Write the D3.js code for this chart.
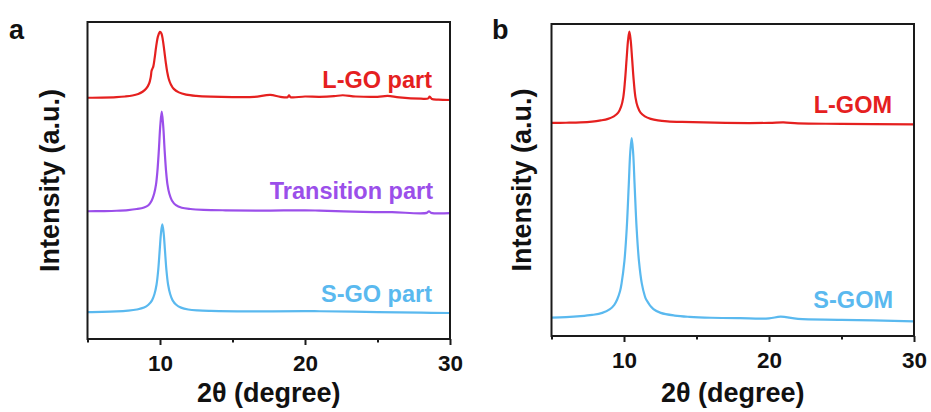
<!DOCTYPE html>
<html lang="en">
<head>
    <meta charset="UTF-8">
    <title>XRD patterns</title>
    <script src="https://d3js.org/d3.v7.min.js"></script>
    <style>
        body, html { margin: 0; padding: 0; overflow: hidden; background: #fff; }
        text { font-family: "Liberation Sans", Arial, sans-serif; font-weight: bold; }
    </style>
</head>
<body>
    <svg width="931" height="412" id="chart"></svg>
    <script>
        // 2θ axis
        const xDomain = [5, 30];
        const xMajor = [10, 20, 30];
        const xMinor = [5, 15, 25];

        // panel a: intensity above each baseline [2θ, a.u.]
        const lgoPart = [[5, 0.1], [6, 0.15], [7, 0.3], [7.6, 0.5], [8.1, 0.8], [8.5, 1.3], [8.8, 2.0], [9.05, 3.0],
            [9.25, 4.6], [9.36, 6.6], [9.42, 8.6], [9.47, 9.2], [9.54, 10.0], [9.63, 12.6], [9.74, 16.4], [9.87, 19.6],
            [10, 20.9], [10.1, 20.4], [10.2, 18.2], [10.3, 14.8], [10.4, 11.2], [10.5, 8.2], [10.6, 6.1], [10.75, 4.3],
            [10.95, 2.9], [11.3, 1.8], [11.8, 1.1], [12.5, 0.7], [13.5, 0.45], [15, 0.3], [16.5, 0.35], [17.6, 1.0],
            [18.3, 0.4], [18.8, 0.3], [18.9, 0.9], [19, 0.3], [20, 0.5], [21, 0.4], [22, 0.6], [22.6, 0.9], [23.5, 0.5],
            [25, 0.4], [25.7, 0.7], [26.5, 0.2], [28, -0.2], [28.5, -0.1], [28.6, 0.5], [28.75, -0.3], [29.2, -0.5],
            [30, -0.6]];
        const transitionPart = [[5, 0], [6, 0.05], [7, 0.15], [7.8, 0.35], [8.4, 0.7], [8.9, 1.2], [9.2, 1.9],
            [9.43, 3.4], [9.6, 5.6], [9.72, 8.3], [9.82, 12.6], [9.92, 19.2], [10.02, 27.0], [10.12, 31.4], [10.22, 27.0],
            [10.32, 19.2], [10.42, 12.6], [10.52, 8.3], [10.64, 5.6], [10.82, 3.4], [11.1, 1.9], [11.5, 1.1], [12.1, 0.7],
            [13, 0.45], [14.5, 0.3], [17, 0.2], [20, 0.3], [21, 0.2], [24, -0.2], [26, -0.3], [28.4, -0.5], [28.55, 0],
            [28.7, -0.5], [30, -0.6]];
        const sgoPart = [[5, 0], [6, 0.05], [7, 0.2], [7.8, 0.45], [8.4, 0.8], [8.9, 1.4], [9.2, 2.3], [9.45, 3.7],
            [9.62, 5.7], [9.76, 8.6], [9.88, 13.4], [9.98, 19.6], [10.07, 25.0], [10.16, 27.7], [10.25, 25.0],
            [10.34, 19.6], [10.44, 13.4], [10.56, 8.6], [10.7, 5.7], [10.87, 3.7], [11.12, 2.3], [11.45, 1.4],
            [11.95, 0.8], [12.6, 0.5], [13.5, 0.35], [16, 0.2], [20, 0.3], [21, 0.25], [25, 0], [28, -0.2], [30, -0.3]];
        const offsetsA = [76, 40.3, 8.5];

        // panel b
        const lgom = [[5, 0], [6, 0.05], [7, 0.15], [7.8, 0.4], [8.4, 0.8], [8.9, 1.3], [9.3, 2.1], [9.6, 3.3],
            [9.8, 5.2], [9.95, 8.2], [10.07, 13.6], [10.18, 20.5], [10.28, 26.5], [10.37, 29.3], [10.46, 26.5],
            [10.56, 20.5], [10.67, 13.6], [10.79, 8.2], [10.94, 5.2], [11.14, 3.3], [11.44, 2.1], [11.84, 1.3],
            [12.34, 0.8], [13, 0.5], [14, 0.3], [17, 0], [20, 0], [21, 0.15], [22, -0.15], [25, -0.3], [30, -0.5]];
        const sgom = [[5, 0.1], [6, 0.25], [7, 0.55], [7.8, 0.95], [8.5, 1.6], [9.03, 2.8], [9.33, 4.2], [9.53, 5.9],
            [9.73, 8.6], [9.83, 11.0], [10.03, 18.3], [10.19, 28.8], [10.33, 42.8], [10.43, 53], [10.53, 57.6],
            [10.63, 53], [10.73, 42.8], [10.87, 28.8], [11.03, 18.3], [11.23, 11.0], [11.43, 7.1], [11.53, 5.9],
            [12.03, 2.8], [12.53, 1.6], [13.5, 0.75], [14.5, 0.35], [16, 0.05], [18, -0.1], [20, -0.15], [20.8, 0.4],
            [22, -0.3], [25, -0.6], [30, -1.1]];
        const offsetsB = [68.3, 5.8];

        const red = "#e5201f", purple = "#9b4fea", blue = "#5ab9ef";

        const panels = [
            {
                letter: "a", letterX: 9, left: 87.5, right: 450, top: 22, bottom: 339, ytitleX: 59,
                series: [
                    { data: lgoPart, offset: offsetsA[0], color: red, label: "L-GO part", lx: 432, ly: 87.5 },
                    { data: transitionPart, offset: offsetsA[1], color: purple, label: "Transition part", lx: 433, ly: 199 },
                    { data: sgoPart, offset: offsetsA[2], color: blue, label: "S-GO part", lx: 432, ly: 301.5 }
                ]
            },
            {
                letter: "b", letterX: 492, left: 551.5, right: 914, top: 24, bottom: 336, ytitleX: 531,
                series: [
                    { data: lgom, offset: offsetsB[0], color: red, label: "L-GOM", lx: 892, ly: 113 },
                    { data: sgom, offset: offsetsB[1], color: blue, label: "S-GOM", lx: 893, ly: 308 }
                ]
            }
        ];

        const svg = d3.select("#chart");
        svg.append("rect").attr("width", 931).attr("height", 412).attr("fill", "#fff");

        panels.forEach(p => {
            const x = d3.scaleLinear().domain(xDomain).range([p.left, p.right]);
            const y = d3.scaleLinear().domain([0, 100]).range([p.bottom, p.top]);
            const g = svg.append("g");

            p.series.forEach(s => {
                const line = d3.line()
                    .x(d => x(d[0]))
                    .y(d => y(d[1] + s.offset))
                    .curve(d3.curveCatmullRom.alpha(0.5));
                g.append("path")
                    .datum(s.data)
                    .attr("d", line)
                    .attr("fill", "none")
                    .attr("stroke", s.color)
                    .attr("stroke-width", 2.2)
                    .attr("stroke-linejoin", "round");
                g.append("text")
                    .attr("x", s.lx)
                    .attr("y", s.ly)
                    .attr("text-anchor", "end")
                    .attr("font-size", 23.5)
                    .attr("fill", s.color)
                    .text(s.label);
            });

            // frame
            g.append("rect")
                .attr("x", p.left).attr("y", p.top)
                .attr("width", p.right - p.left).attr("height", p.bottom - p.top)
                .attr("fill", "none").attr("stroke", "#1a1a1a").attr("stroke-width", 2);

            const major = g.append("g")
                .attr("transform", `translate(0,${p.bottom})`)
                .call(d3.axisBottom(x).tickValues(xMajor).tickSize(6).tickSizeOuter(0).tickFormat(d3.format("d")));
            major.select(".domain").remove();
            major.selectAll("line").attr("stroke", "#1a1a1a").attr("stroke-width", 2);
            major.selectAll("text")
                .attr("y", 32).attr("dy", 0)
                .attr("font-size", 22.5)
                .attr("font-family", "'Liberation Sans', Arial, sans-serif")
                .attr("fill", "#111");

            const minor = g.append("g")
                .attr("transform", `translate(0,${p.bottom})`)
                .call(d3.axisBottom(x).tickValues(xMinor).tickSize(3.5).tickSizeOuter(0).tickFormat(""));
            minor.select(".domain").remove();
            minor.selectAll("line").attr("stroke", "#1a1a1a").attr("stroke-width", 2);

            // titles
            g.append("text")
                .attr("x", (p.left + p.right) / 2)
                .attr("y", 402)
                .attr("text-anchor", "middle")
                .attr("font-size", 27)
                .attr("fill", "#111")
                .text("2θ (degree)");
            g.append("text")
                .attr("transform", `translate(${p.ytitleX},${(p.top + p.bottom) / 2}) rotate(-90)`)
                .attr("text-anchor", "middle")
                .attr("font-size", 27)
                .attr("fill", "#111")
                .text("Intensity (a.u.)");
            g.append("text")
                .attr("x", p.letterX)
                .attr("y", 39)
                .attr("font-size", 27)
                .attr("fill", "#111")
                .text(p.letter);
        });
    </script>
</body>
</html>
